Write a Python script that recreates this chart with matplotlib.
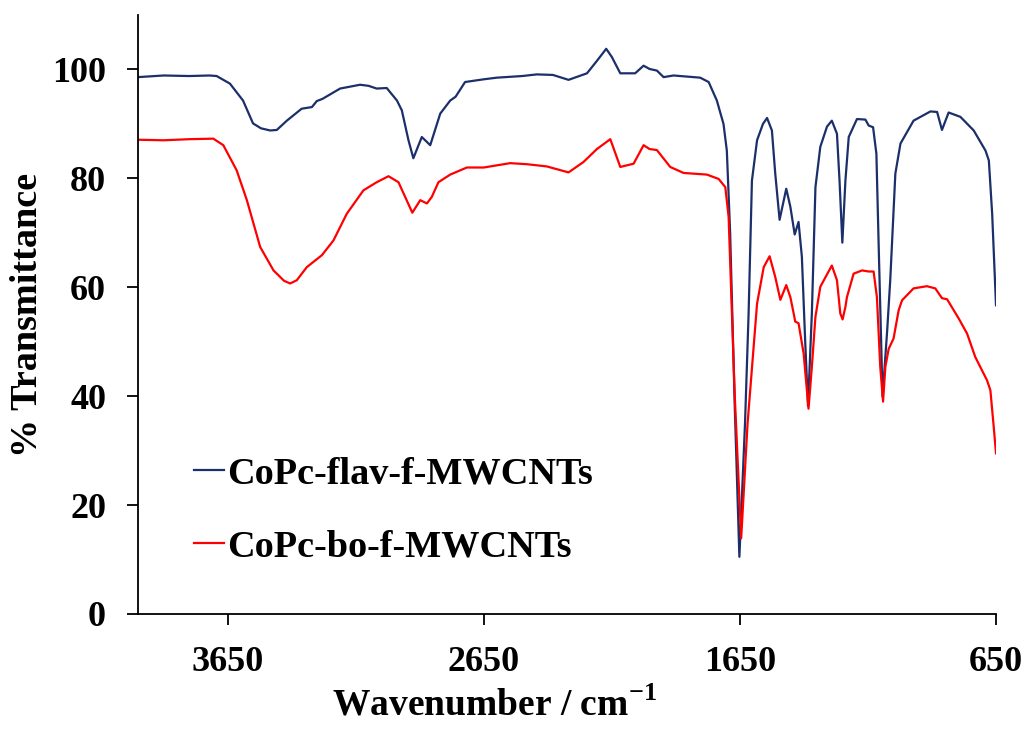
import matplotlib.pyplot as plt
import numpy as np

# CoPc-flav-f-MWCNTs (blue)
wn_flav = [4000, 3900, 3800, 3720, 3693, 3641, 3590, 3551, 3520, 3484, 3458, 3419,
           3361, 3321, 3302, 3280, 3211, 3133, 3100, 3068, 3029, 2989, 2970, 2944,
           2925, 2892, 2859, 2820, 2781, 2760, 2723, 2650, 2599, 2500, 2443, 2380,
           2319, 2247, 2208, 2172, 2150, 2117, 2059, 2026, 2003, 1974, 1948, 1909,
           1805, 1772, 1740, 1714, 1701, 1688, 1670, 1652, 1630, 1616, 1603, 1583,
           1560, 1544, 1525, 1512, 1495, 1469, 1453, 1436, 1421, 1408, 1395, 1384,
           1369, 1355, 1336, 1310, 1291, 1271, 1261, 1250, 1238, 1225, 1193, 1160,
           1147, 1130, 1117, 1108, 1093, 1075, 1063, 1043, 1023, 972, 906, 880,
           861, 835, 789, 737, 691, 678, 665, 650]
t_flav = [98.6, 98.9, 98.8, 98.9, 98.8, 97.4, 94.3, 90.1, 89.2, 88.8, 88.9, 90.6,
          92.8, 93.1, 94.2, 94.6, 96.5, 97.2, 97.0, 96.5, 96.6, 94.3, 92.5, 87.0,
          83.7, 87.6, 86.1, 91.9, 94.3, 95.0, 97.7, 98.2, 98.5, 98.8, 99.1, 99.0,
          98.1, 99.3, 101.6, 103.8, 102.3, 99.3, 99.3, 100.7, 100.1, 99.8, 98.6, 98.9,
          98.5, 97.7, 94.3, 90.0, 85.1, 69.9, 38.0, 10.5, 35.0, 55.2, 79.6, 87.0,
          90.0, 91.1, 88.8, 80.9, 72.4, 78.1, 74.8, 69.7, 72.0, 65.6, 50.0, 38.2,
          55.2, 78.4, 85.8, 89.5, 90.6, 88.2, 79.6, 68.2, 79.6, 87.6, 90.9, 90.8,
          89.7, 89.4, 84.5, 67.4, 39.9, 52.0, 61.3, 80.9, 86.4, 90.6, 92.3, 92.2,
          88.9, 92.1, 91.3, 88.8, 85.1, 83.3, 73.5, 56.7]

# CoPc-bo-f-MWCNTs (red)
wn_bo = [4000, 3900, 3800, 3706, 3667, 3615, 3575, 3523, 3471, 3430, 3406, 3380,
         3341, 3282, 3237, 3185, 3120, 3068, 3022, 2983, 2957, 2929, 2898, 2872,
         2853, 2827, 2781, 2716, 2650, 2547, 2480, 2404, 2319, 2261, 2208, 2156,
         2117, 2065, 2026, 2003, 1974, 1922, 1870, 1779, 1733, 1707, 1694, 1670,
         1645, 1620, 1583, 1557, 1534, 1512, 1492, 1469, 1453, 1440, 1434, 1421,
         1401, 1382, 1369, 1355, 1336, 1291, 1271, 1258, 1249, 1238, 1232, 1206,
         1173, 1147, 1128, 1115, 1102, 1091, 1082, 1069, 1050, 1030, 1017, 972,
         920, 887, 861, 841, 796, 763, 731, 685, 672, 659, 650]
t_bo = [87.1, 87.0, 87.2, 87.3, 86.1, 81.5, 76.0, 67.4, 63.1, 61.2, 60.7, 61.3,
        63.7, 65.9, 68.6, 73.5, 77.8, 79.3, 80.4, 79.3, 76.6, 73.7, 76.0, 75.4,
        76.6, 79.3, 80.7, 82.0, 82.0, 82.8, 82.6, 82.2, 81.1, 83.0, 85.4, 87.2,
        82.1, 82.7, 86.1, 85.4, 85.2, 82.1, 81.0, 80.7, 79.9, 78.4, 72.9, 40.0,
        13.9, 35.0, 57.0, 63.7, 65.7, 61.9, 57.7, 60.4, 58.2, 55.2, 53.7, 53.4,
        47.8, 37.7, 45.4, 54.6, 60.1, 64.0, 61.3, 55.2, 54.1, 56.4, 58.2, 62.5,
        63.1, 62.9, 62.9, 58.2, 45.4, 39.0, 45.4, 48.7, 50.6, 55.8, 57.6, 59.8,
        60.2, 59.8, 58.0, 57.8, 54.3, 51.5, 47.2, 42.9, 41.1, 34.4, 29.5]

labels = ['CoPc-flav-f-MWCNTs', 'CoPc-bo-f-MWCNTs']
xticks = [3650, 2650, 1650, 650]

plt.rcParams['font.family'] = ['Liberation Serif', 'DejaVu Serif']
plt.rcParams['font.weight'] = 'bold'
plt.rcParams['mathtext.fontset'] = 'custom'
plt.rcParams['mathtext.bf'] = 'Liberation Serif:bold'
plt.rcParams['mathtext.rm'] = 'Liberation Serif:bold'

fig = plt.figure(figsize=(10.3, 7.34), dpi=100)
ax = fig.add_axes([0.134, 0.1635, 0.833, 0.816])

ax.plot(wn_flav, t_flav, color='#1b2f6b', lw=1.6, label=labels[0])
ax.plot(wn_bo, t_bo, color='#ff0000', lw=1.6, label=labels[1])

ax.set_xlim(4000, 650)
ax.set_ylim(0, 110)
ax.set_xticks(xticks)
ax.set_yticks(np.arange(0, 101, 20))
ax.spines['top'].set_visible(False)
ax.spines['right'].set_visible(False)
for s in ['left', 'bottom']:
    ax.spines[s].set_linewidth(1.3)
ax.tick_params(direction='out', length=8, width=1.3, labelsize=26, pad=15)
for lab in ax.get_xticklabels() + ax.get_yticklabels():
    lab.set_fontweight('bold')

ax.set_xlabel('Wavenumber / cm$^{\\mathrm{-1}}$', fontsize=27, fontweight='bold')
ax.xaxis.set_label_coords(0.415, -0.122)
ax.set_ylabel('% Transmittance', fontsize=27.5, fontweight='bold')
ax.yaxis.set_label_coords(-0.108, 0.5)

ax.legend(loc='lower left', bbox_to_anchor=(0.025, 0.025), frameon=False,
          handlelength=0.8, handletextpad=0.08, labelspacing=1.0,
          prop={'weight': 'bold', 'size': 27.5})

fig.savefig('out.png', dpi=100)
